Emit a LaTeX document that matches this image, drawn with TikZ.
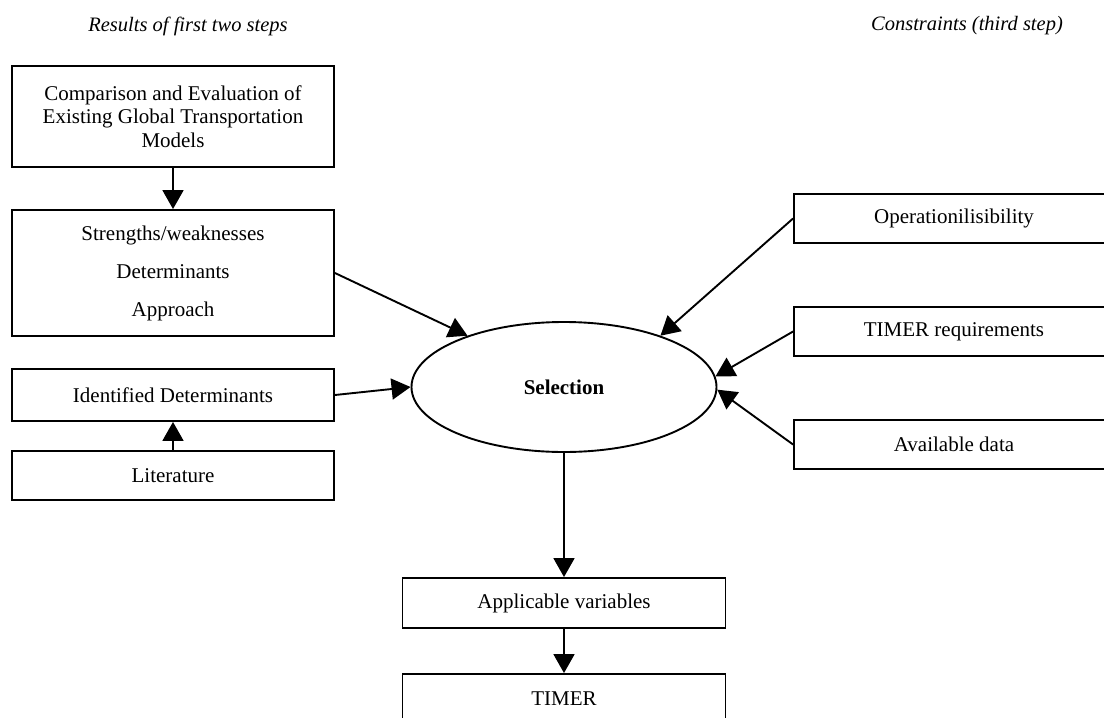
\documentclass[tikz,border=0pt]{standalone}
\usepackage{fontspec}
\setmainfont{Liberation Serif}
\usetikzlibrary{arrows.meta,shapes.geometric}
\begin{document}
\begin{tikzpicture}[x=1pt,y=-1pt,
  box/.style={draw, line width=1.9pt, rectangle, inner sep=0pt, align=center,
    font=\fontsize{21}{23.5}\selectfont},
  heading/.style={font=\fontsize{20.5}{24}\selectfont\itshape},
  link/.style={line width=1.9pt, -{Triangle[length=19pt,width=21pt]}}]
\clip (0,0) rectangle (1104,718);

% column headings
\node[heading] (hleft)  at (188,26) {Results of first two steps};
\node[heading] (hright) at (967,26) {Constraints (third step)};

% results of the first two steps
\node[box, minimum width=322pt, minimum height=101pt] (models) at (173,116.5)
  {Comparison and Evaluation of\\Existing Global Transportation\\Models};
\node[box, minimum width=322pt, minimum height=126pt] (sw) at (173,273)
  {Strengths/weaknesses\\[14.5pt]Determinants\\[14.5pt]Approach};
\node[box, minimum width=322pt, minimum height=52pt] (ident) at (173,395)
  {Identified Determinants};
\node[box, minimum width=322pt, minimum height=49pt] (lit) at (173,475.5)
  {Literature};

% central selection step
\node[draw, line width=1.9pt, ellipse, inner sep=0pt, minimum width=305pt,
  minimum height=130pt, font=\fontsize{21}{23.5}\selectfont\bfseries]
  (sel) at (564,387) {Selection};

% constraints
\node[box, minimum width=320pt, minimum height=49pt] (oper) at (954,218.5)
  {Operationilisibility};
\node[box, minimum width=320pt, minimum height=49pt] (treq) at (954,331.5)
  {TIMER requirements};
\node[box, minimum width=320pt, minimum height=49pt] (data) at (954,444.5)
  {Available data};

% outputs
\node[box, minimum width=323pt, minimum height=50pt] (app) at (564,603)
  {Applicable variables};
\node[box, minimum width=323pt, minimum height=50pt] (timer) at (564,699)
  {TIMER};

% connectors
\draw[link] (models.south) -- (sw.north);
\draw[link] (lit.north) -- (ident.south);
\draw[link] (sw.east) -- (sel.152);
\draw[link] (ident.east) -- (sel.west);
\draw[link] (oper.west) -- (sel.28);
\draw[link] (treq.west) -- (sel.4);
\draw[link] (data.west) -- (sel.-1);
\draw[link] (sel.south) -- (app.north);
\draw[link] (app.south) -- (timer.north);
\end{tikzpicture}
\end{document}
